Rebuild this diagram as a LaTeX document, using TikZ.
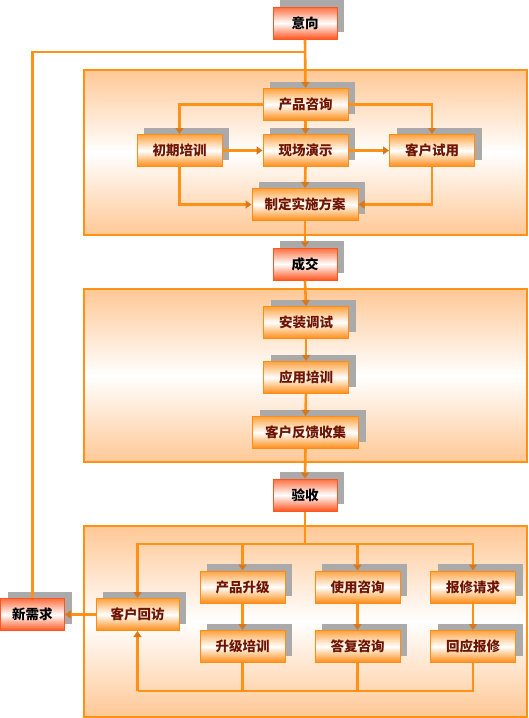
\documentclass[tikz,border=0pt]{standalone}
\usepackage{fontspec}
\newfontfamily\cjk{Noto Sans CJK SC}
\usetikzlibrary{arrows.meta,shadows,calc}
\definecolor{lineor}{RGB}{255,145,20}
\definecolor{tipc}{RGB}{215,120,30}
\definecolor{boxor}{RGB}{255,140,20}
\definecolor{txtred}{RGB}{110,20,0}
\definecolor{redb}{RGB}{255,85,30}
\definecolor{panelor}{RGB}{255,200,150}
\definecolor{shadowg}{RGB}{170,170,170}
\tikzset{
  basebox/.style={rectangle, minimum height=32pt, inner sep=2pt, line width=1pt,
    font=\cjk\bfseries\fontsize{13.5}{16}\selectfont,
    drop shadow={shadow xshift=7pt, shadow yshift=7pt, fill=shadowg, opacity=1}},
  obox/.style={basebox, draw=boxor, top color=boxor!80, bottom color=boxor, middle color=white, text=txtred, minimum width=85pt},
  rbox/.style={basebox, draw=redb, top color=redb!85, bottom color=redb, middle color=white, text=black, minimum width=64pt},
  conn/.style={draw=lineor, line width=2.6pt},
  arr/.style={conn, -{Triangle[length=6pt,width=8pt,color=tipc]}},
  panel/.style={draw=lineor, line width=1.2pt, top color=panelor, bottom color=panelor, middle color=white}
}
\begin{document}
\begin{tikzpicture}[x=1pt,y=-1pt]
\useasboundingbox (0,0) rectangle (528,718);
% panels
\path[panel] (84,70) rectangle (527,235);
\path[panel] (84,289) rectangle (527,462);
\path[panel] (84,526) rectangle (527,717);
% nodes
\node[rbox] (yx) at (305,23) {意向};
\node[obox] (cpzx) at (305.5,104.5) {产品咨询};
\node[obox] (cqpx) at (179.5,150.5) {初期培训};
\node[obox] (xcys) at (305.5,150.5) {现场演示};
\node[obox] (khsy) at (432,150.5) {客户试用};
\node[obox, minimum width=106pt] (zdfa) at (305,204.5) {制定实施方案};
\node[rbox] (cj) at (305,264) {成交};
\node[obox] (azts) at (306,322.5) {安装调试};
\node[obox] (yypx) at (306,377.5) {应用培训};
\node[obox, minimum width=106pt] (khfk) at (305.5,432.5) {客户反馈收集};
\node[rbox] (ys) at (305,495) {验收};
\node[rbox] (xxq) at (32.5,614.5) {新需求};
\node[obox, minimum width=83pt] (khhf) at (137.5,614.5) {客户回访};
\node[obox] (cpsj) at (242.5,587) {产品升级};
\node[obox] (syzx) at (357.5,587) {使用咨询};
\node[obox] (bxqq) at (473,587) {报修请求};
\node[obox] (sjpx) at (242.5,646.5) {升级培训};
\node[obox] (dfzx) at (357.5,646.5) {答复咨询};
\node[obox] (hybx) at (473,646.5) {回应报修};
% connectors
\coordinate (j1) at (305,52);
\draw[arr] (yx.south) -- (cpzx.north);
\draw[conn] (xxq.north) |- (j1);
\draw[arr] (cpzx.west) -| (cqpx.north);
\draw[arr] (cpzx.east) -| (khsy.north);
\draw[arr] (cpzx.south) -- (xcys.north);
\draw[arr] (cqpx.east) -- (xcys.west);
\draw[arr] (xcys.east) -- (khsy.west);
\draw[arr] (xcys.south) -- (zdfa.north);
\draw[arr] (cqpx.south) |- (zdfa.west);
\draw[arr] (khsy.south) |- (zdfa.east);
\draw[arr] (zdfa.south) -- (cj.north);
\draw[arr] (cj.south) -- (azts.north);
\draw[arr] (azts.south) -- (yypx.north);
\draw[arr] (yypx.south) -- (khfk.north);
\draw[arr] (khfk.south) -- (ys.north);
\coordinate (top) at (305,544);
\coordinate (bot) at (137.5,691);
\draw[conn] (ys.south) -- (top);
\draw[arr] (top) -| (khhf.north);
\draw[arr] (top) -| (bxqq.north);
\draw[arr] (cpsj.north |- top) -- (cpsj.north);
\draw[arr] (syzx.north |- top) -- (syzx.north);
\draw[arr] (cpsj.south) -- (sjpx.north);
\draw[arr] (syzx.south) -- (dfzx.north);
\draw[arr] (bxqq.south) -- (hybx.north);
\draw[conn] (sjpx.south) |- (bot);
\draw[conn] (dfzx.south) |- (bot);
\draw[conn] (hybx.south) |- (bot);
\draw[arr] (bot) -- (khhf.south);
\draw[arr] (khhf.west) -- (xxq.east);
\end{tikzpicture}
\end{document}
